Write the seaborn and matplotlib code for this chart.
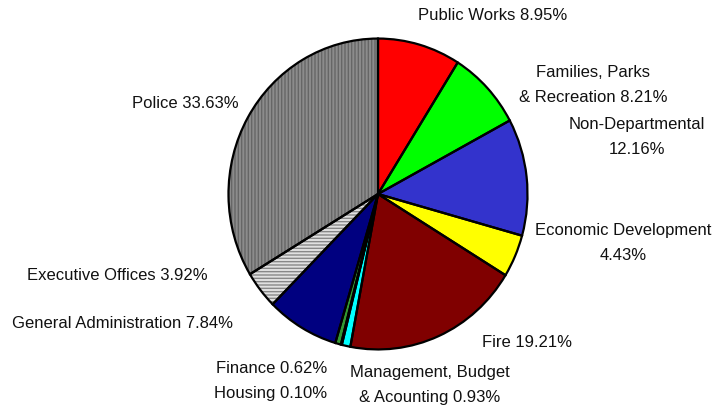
import matplotlib
matplotlib.use("Agg")
import matplotlib.pyplot as plt
import seaborn as sns

# departments, clockwise from the top
departments = ["Public Works", "Families, Parks\n& Recreation", "Non-Departmental",
               "Economic Development", "Fire", "Management, Budget\n& Acounting",
               "Housing", "Finance", "General Administration", "Executive Offices",
               "Police"]
shares = [8.95, 8.21, 12.16, 4.43, 19.21, 0.93, 0.10, 0.62, 7.84, 3.92, 33.63]
colours = ["#ff0000", "#00ff00", "#3333cc", "#ffff00", "#800000", "#00ffff",
           "#000000", "#339933", "#000080", "#e0e0e0", "#8c8c8c"]
hatches = [None] * 9 + ["-----", "|||||"]
hatch_cols = [None] * 9 + ["#888888", "#666666"]

sns.set_style("white")
plt.rcParams['font.family'] = ['Liberation Sans', 'DejaVu Sans']

fig = plt.figure(figsize=(7.17, 4.10), dpi=100)
# pie is drawn a touch taller than wide, like the original
ax = fig.add_axes([227 / 717, 1 - 352 / 410, 302 / 717, 314 / 410])

wedges, _ = ax.pie(shares, colors=colours, startangle=90, counterclock=False,
                   wedgeprops={"linewidth": 0})
for w, h, hc in zip(wedges, hatches, hatch_cols):
    if h:
        w.set_edgecolor(hc)
        w.set_hatch(h)
        w.set_linewidth(0)
# outlines on top
outl, _ = ax.pie(shares, startangle=90, counterclock=False,
                 wedgeprops={"fill": False, "edgecolor": "black", "linewidth": 1.6})
ax.set_aspect("auto")
ax.set_xlim(-1.01, 1.01)
ax.set_ylim(-1.01, 1.01)
ax.axis("off")

# label text and where it sits (figure pixels, centre of block)
label_text = [f"{d} {s:.2f}%" for d, s in zip(departments, shares)]
label_text[2] = "Non-Departmental\n12.16%"
label_text[3] = "Economic Development\n4.43%"
label_text[6] = None
label_text[7] = "Finance 0.62%\nHousing 0.10%"
label_pos = [(493, 15, "center"), (593, 85, "center"), (637, 137, "center"),
             (623, 243, "center"), (527, 343, "center"), (430, 385, "center"),
             None, (327, 381, "right"), (123, 324, "center"), (117, 275, "center"),
             (185, 104, "center")]
for t, p in zip(label_text, label_pos):
    if t is None:
        continue
    x, y, ha = p
    fig.text(x / 717, 1 - y / 410, t, ha=ha, va="center", fontsize=12,
             linespacing=1.85, color="#111111", multialignment=ha)

fig.savefig("out.png", dpi=100)
